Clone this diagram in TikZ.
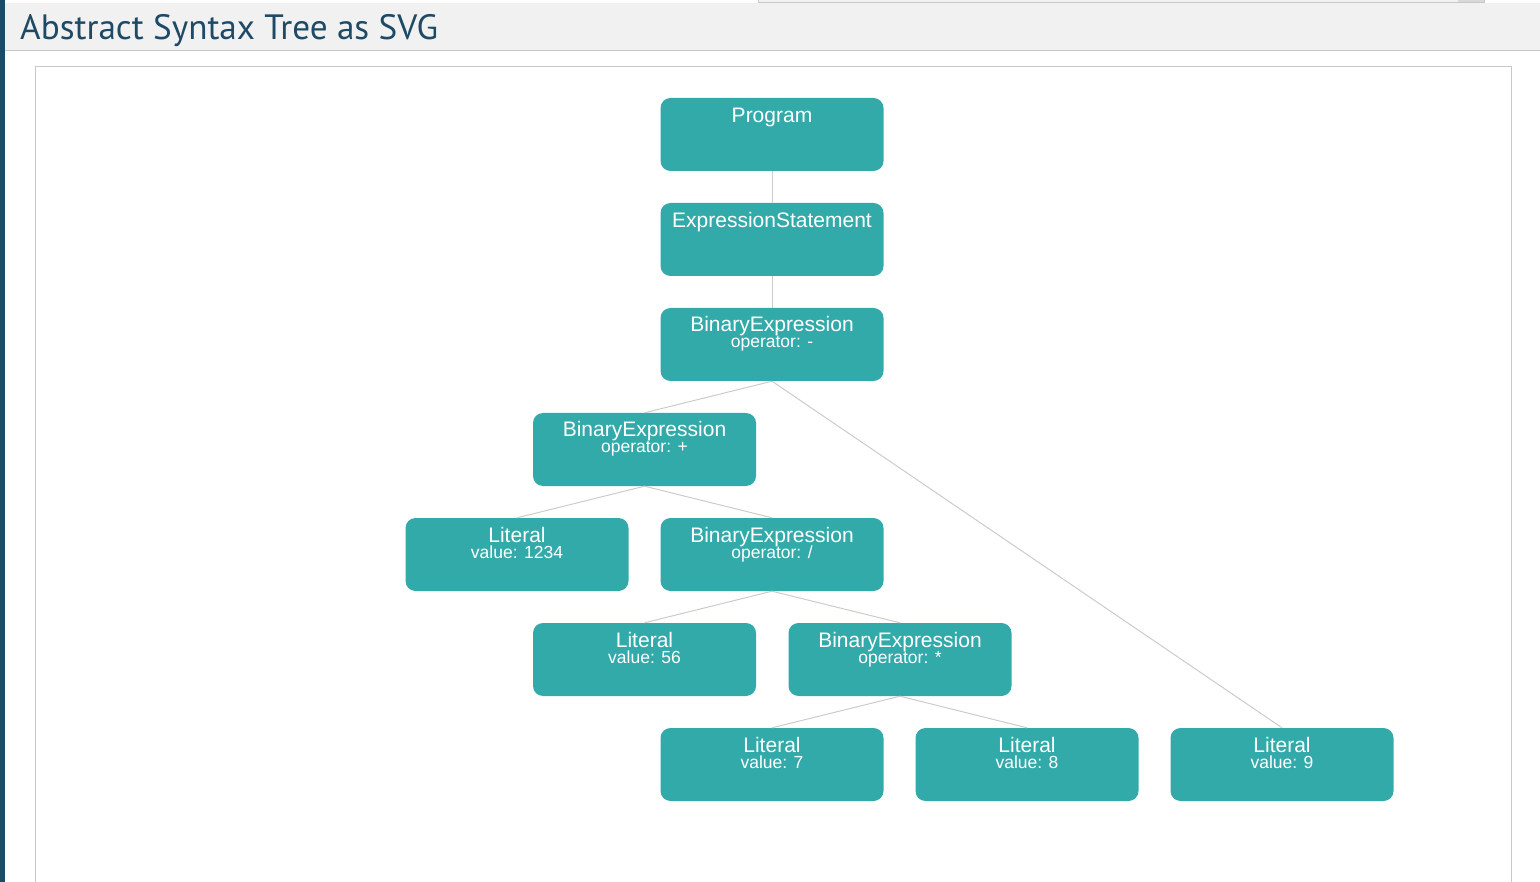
\documentclass[tikz,border=0pt]{standalone}
\usepackage{fontspec}
\setmainfont{Liberation Sans}
\newfontfamily\headfont{PT Sans}
\definecolor{astteal}{HTML}{33AAAA}
\definecolor{astline}{HTML}{CCCCCC}
\definecolor{headbg}{HTML}{F1F1F1}
\definecolor{headtext}{HTML}{1E4A66}
\definecolor{sidebar}{HTML}{1B4C62}
\definecolor{frameline}{HTML}{C8C8C8}
\newcommand{\astfont}{\fontsize{21}{16}\selectfont\lineskiplimit=-50pt\relax}
\newcommand{\astsub}[1]{{\fontsize{17.5}{16}\selectfont #1}}
\begin{document}
\begin{tikzpicture}
    [
  x=1pt, y=-1pt,
  astnode/.style={
    rectangle,
    rounded corners=10pt,
    fill=astteal,
    text=white,
    minimum width=223pt,
    inner xsep=0pt,
    inner ysep=0pt,
    text height=24.5pt,
    text depth=48.5pt,
    align=center,
    font=\astfont
  },
  astpair/.style={
    astnode,
    text height=40pt,
    text depth=33pt
  },
  astedge/.style={
    draw=astline,
    line width=1pt
  }
  ]
  \useasboundingbox (0,0) rectangle (1540,882);
  \fill [white] (0,0) rectangle (1540,882);
  \draw [frameline, fill=headbg] (758,-2) rectangle (1484,2);
  \fill [frameline!70] (1458,-2) rectangle (1484,2);
  \fill [headbg] (5,3) rectangle (1540,51);
  \draw [frameline, line width=1pt] (5,51) -- (1540,51);
  \fill [sidebar] (0,0) rectangle (5,882);
  \node (title) at (20,40) [anchor=base west, inner sep=0pt, text=headtext,
    font=\headfont\fontsize{35.2}{40}\selectfont] {Abstract Syntax Tree as SVG};
  \draw [frameline, line width=1pt, fill=white] (35,67) rectangle (1511,900);

  \node (prog) at (772,134.5) [astnode] {Program};
  \node (stmt) at (772,239.5) [astnode] {ExpressionStatement};
  \node (minus) at (772,344.5) [astpair] {BinaryExpression\\\astsub{operator: -}};
  \node (plus) at (644.5,449.5) [astpair] {BinaryExpression\\\astsub{operator: +}};
  \node (lit1234) at (517,554.5) [astpair] {Literal\\\astsub{value: 1234}};
  \node (div) at (772,554.5) [astpair] {BinaryExpression\\\astsub{operator: /}};
  \node (lit56) at (644.5,659.5) [astpair] {Literal\\\astsub{value: 56}};
  \node (times) at (900,659.5) [astpair] {BinaryExpression\\\astsub{operator: *}};
  \node (lit7) at (772,764.5) [astpair] {Literal\\\astsub{value: 7}};
  \node (lit8) at (1027,764.5) [astpair] {Literal\\\astsub{value: 8}};
  \node (lit9) at (1282,764.5) [astpair] {Literal\\\astsub{value: 9}};

  \draw [astedge] (prog.south) -- (stmt.north);
  \draw [astedge] (stmt.south) -- (minus.north);
  \draw [astedge] (minus.south) -- (plus.north);
  \draw [astedge] (minus.south) -- (lit9.north);
  \draw [astedge] (plus.south) -- (lit1234.north);
  \draw [astedge] (plus.south) -- (div.north);
  \draw [astedge] (div.south) -- (lit56.north);
  \draw [astedge] (div.south) -- (times.north);
  \draw [astedge] (times.south) -- (lit7.north);
  \draw [astedge] (times.south) -- (lit8.north);
\end{tikzpicture}
\end{document}
